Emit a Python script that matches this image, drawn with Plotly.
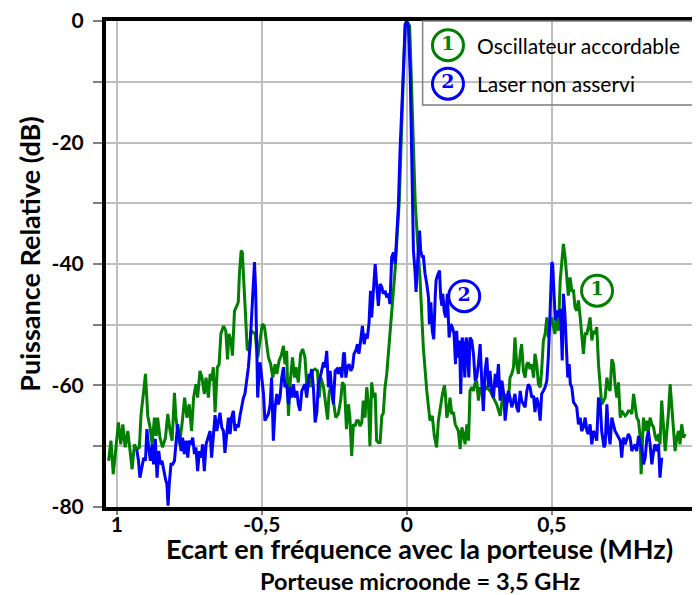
import plotly.graph_objects as go

# ---- Series 1 : Oscillateur accordable (green) ----
x_osc = [
    -1.028, -1.020, -1.012, -1.002, -0.994, -0.986, -0.979, -0.971, -0.962, -0.954,
    -0.947, -0.939, -0.931, -0.922, -0.916, -0.907, -0.901, -0.893, -0.885, -0.878,
    -0.870, -0.864, -0.859, -0.851, -0.842, -0.832, -0.824, -0.816, -0.809, -0.801,
    -0.796, -0.784, -0.775, -0.766, -0.758, -0.750, -0.742, -0.735, -0.727, -0.721,
    -0.713, -0.706, -0.698, -0.692, -0.684, -0.678,
    -0.673, -0.667, -0.661, -0.653, -0.647, -0.641, -0.632, -0.624, -0.618, -0.613,
    -0.606, -0.601, -0.594, -0.586, -0.581, -0.577, -0.571, -0.567, -0.561, -0.555,
    -0.550, -0.543, -0.537, -0.523, -0.514, -0.506, -0.498, -0.491, -0.485, -0.477,
    -0.469, -0.462, -0.454, -0.448, -0.440, -0.433, -0.425, -0.420, -0.414, -0.408,
    -0.401, -0.394, -0.387, -0.382, -0.374, -0.366, -0.359, -0.351, -0.345, -0.337,
    -0.333, -0.325, -0.316, -0.308, -0.302, -0.296, -0.287, -0.279, -0.273, -0.268,
    -0.261, -0.253, -0.245, -0.236, -0.228, -0.222, -0.215, -0.208, -0.201, -0.196,
    -0.190, -0.184, -0.178, -0.173, -0.167, -0.161, -0.155, -0.150, -0.144, -0.138,
    -0.132, -0.127, -0.121, -0.115, -0.109, -0.104, -0.098, -0.092, -0.086, -0.081,
    -0.075, -0.069, -0.063, -0.058, -0.052, -0.046, -0.040, -0.035,
    -0.026, -0.006, 0.000, 0.010, 0.029, 0.035,
    0.046, 0.057, 0.069, 0.080, 0.088, 0.095, 0.103, 0.109, 0.115, 0.123,
    0.130, 0.134, 0.138, 0.144, 0.149, 0.155, 0.161, 0.167, 0.172, 0.178,
    0.184, 0.190, 0.195, 0.201, 0.207, 0.213, 0.218, 0.224, 0.230, 0.236,
    0.241, 0.247, 0.253, 0.259, 0.264, 0.276, 0.287, 0.299, 0.310, 0.322,
    0.329, 0.336,
    0.339, 0.345, 0.350, 0.356, 0.362, 0.368, 0.373, 0.379, 0.385, 0.391,
    0.396, 0.402, 0.408, 0.414, 0.419, 0.425, 0.431, 0.437, 0.442, 0.448,
    0.454, 0.460, 0.465, 0.471, 0.477, 0.483, 0.488, 0.494, 0.500, 0.506,
    0.511, 0.517, 0.523, 0.529, 0.534, 0.540, 0.546, 0.552, 0.557, 0.563,
    0.569, 0.575, 0.580, 0.586, 0.592, 0.598, 0.603, 0.609, 0.615, 0.621,
    0.626, 0.632, 0.638, 0.644, 0.649, 0.655, 0.661, 0.667, 0.672,
    0.684, 0.690, 0.695, 0.701, 0.707, 0.713, 0.718, 0.724, 0.730, 0.736,
    0.741, 0.747, 0.753, 0.759, 0.764, 0.770, 0.776, 0.782, 0.787, 0.793,
    0.799, 0.805, 0.808, 0.813, 0.816, 0.822, 0.828, 0.833, 0.839, 0.845,
    0.851, 0.856, 0.862, 0.868, 0.873, 0.879, 0.885, 0.891, 0.896, 0.902,
    0.908, 0.914, 0.920, 0.925, 0.931, 0.937, 0.942, 0.948, 0.954, 0.960,
]
y_osc = [
    -72.4, -69.1, -74.6, -69.7, -66.1, -69.7, -66.4, -70.2, -67.5, -70.8,
    -73.8, -69.7, -70.5, -70.2, -64.7, -60.9, -58.1, -65.0, -66.9, -69.7,
    -65.3, -68.3, -65.3, -68.6, -70.2, -68.6, -64.7, -67.5, -69.1, -61.2,
    -65.3, -69.7, -66.4, -62.0, -65.3, -63.1, -67.5, -62.0, -59.8, -62.0,
    -57.6, -58.7, -61.4, -58.7, -62.0, -58.1,
    -59.2, -57.0, -64.4, -57.0, -56.5, -51.5, -50.2, -51.0, -55.7, -51.5,
    -52.6, -55.1, -47.7, -46.9, -46.3, -41.6, -37.8, -38.1, -43.8, -49.9,
    -54.0, -54.3, -51.0, -51.5, -55.4, -52.6, -49.9, -50.2, -52.5, -55.4,
    -56.5, -58.7, -56.5, -58.1, -55.9, -55.1, -53.5, -56.5, -54.3, -65.0,
    -58.9, -55.4, -58.7, -57.0, -59.5, -54.8, -54.0, -55.4, -59.8, -59.2,
    -60.3, -57.6, -57.3, -57.6, -62.0, -58.7, -60.3, -63.1, -65.6, -61.4,
    -59.8, -62.5, -65.3, -64.7, -62.5, -59.5, -60.0, -67.2, -63.1, -65.3,
    -71.6, -66.4, -66.7, -65.8, -65.8, -66.7, -66.1, -62.5, -65.3, -60.3,
    -63.1, -70.0, -59.5, -62.0, -61.2, -69.1, -69.4, -69.4, -65.0, -64.6,
    -60.3, -58.1, -54.8, -51.0, -47.7, -44.4, -40.8, -36.7,
    -29.8, -0.5, 0.0, -0.8, -29.8, -34.5,
    -42.7, -53.7, -60.9, -65.8, -65.0, -68.3, -70.2, -65.8, -63.6, -61.4,
    -60.0, -62.0, -65.3, -64.2, -62.0, -64.7, -64.4, -66.4, -66.9, -67.5,
    -70.5, -66.9, -68.0, -69.7, -66.4, -69.1, -60.9, -60.3, -60.9, -59.5,
    -59.2, -62.5, -60.3, -61.4, -60.9, -60.3, -60.9, -62.0, -63.1, -65.0,
    -62.5, -61.4,
    -64.4, -61.4, -62.8, -58.7, -58.1, -57.0, -52.1, -56.5, -58.1, -54.8,
    -53.2, -57.6, -58.7, -56.5, -56.2, -57.3, -56.5, -58.7, -54.8, -56.5,
    -59.8, -60.3, -57.6, -52.6, -51.5, -48.8, -52.1, -49.9, -48.8, -50.4,
    -51.5, -47.7, -51.0, -42.7, -40.0, -36.7, -38.9, -42.2, -45.2, -42.2,
    -44.4, -44.4, -47.1, -47.7, -46.0, -48.8, -52.1, -54.8, -51.5, -51.5,
    -50.4, -48.8, -52.6, -51.0, -51.5, -50.4, -56.5, -60.3, -63.1,
    -62.0, -58.7, -60.3, -60.9, -55.7, -56.5, -59.8, -62.0, -59.5, -65.3,
    -64.2, -64.7, -65.0, -64.7, -64.2, -64.2, -64.7, -61.4, -63.6, -65.3,
    -65.8, -68.6, -74.6, -67.5, -65.3, -67.5, -65.8, -67.5, -65.3, -66.4,
    -66.9, -68.3, -69.1, -68.0, -69.7, -62.5, -67.5, -70.8, -68.0, -64.7,
    -59.8, -63.1, -67.5, -70.8, -68.6, -67.5, -69.7, -66.4, -68.6, -68.0,
]

# ---- Series 2 : Laser non asservi (blue) ----
x_laser = [
    -0.931, -0.925, -0.920, -0.913, -0.907, -0.901, -0.896, -0.890, -0.884, -0.878,
    -0.873, -0.867, -0.861, -0.855, -0.850, -0.844, -0.838, -0.832, -0.827, -0.823,
    -0.819, -0.813, -0.807, -0.801, -0.796, -0.790, -0.784, -0.778, -0.773, -0.767,
    -0.761, -0.755, -0.750, -0.744, -0.738, -0.732, -0.727, -0.721, -0.715, -0.709,
    -0.704, -0.698, -0.692, -0.686, -0.678,
    -0.673, -0.667, -0.661, -0.655, -0.650, -0.644, -0.638, -0.632, -0.627, -0.621,
    -0.615, -0.609, -0.604, -0.598, -0.592, -0.586, -0.581, -0.575, -0.569, -0.563,
    -0.558, -0.552, -0.546, -0.540, -0.535, -0.529, -0.525, -0.521, -0.517, -0.514,
    -0.509, -0.506, -0.500, -0.494, -0.489, -0.483, -0.477, -0.471, -0.466, -0.460,
    -0.454, -0.448, -0.443, -0.437, -0.431, -0.425, -0.420, -0.414, -0.408, -0.402,
    -0.397, -0.391, -0.385, -0.379, -0.374, -0.368, -0.362, -0.356, -0.351, -0.345,
    -0.337,
    -0.333, -0.328, -0.322, -0.316, -0.310, -0.305, -0.299, -0.293, -0.287, -0.282,
    -0.276, -0.270, -0.264, -0.259, -0.253, -0.247, -0.241, -0.236, -0.230, -0.224,
    -0.218, -0.215, -0.210, -0.205, -0.199, -0.193, -0.187, -0.182, -0.176, -0.170,
    -0.165, -0.159, -0.153, -0.147, -0.141, -0.136, -0.130, -0.125, -0.121, -0.115,
    -0.109, -0.104, -0.098, -0.092, -0.086, -0.081, -0.075, -0.069, -0.063, -0.058,
    -0.052, -0.046, -0.040, -0.035,
    -0.029, -0.023, -0.012, -0.005, 0.000, 0.006, 0.012, 0.017, 0.021,
    0.023, 0.029, 0.032, 0.037, 0.040, 0.044, 0.048, 0.053, 0.057, 0.063,
    0.069, 0.075, 0.078, 0.083, 0.088, 0.093, 0.098, 0.101, 0.106, 0.109,
    0.113, 0.117, 0.121, 0.124, 0.129, 0.134, 0.140, 0.146, 0.152, 0.157,
    0.163, 0.168, 0.172, 0.177, 0.182, 0.186, 0.191, 0.195, 0.200, 0.205,
    0.209, 0.214, 0.218, 0.224, 0.230, 0.236, 0.241, 0.247, 0.253, 0.259,
    0.264, 0.270, 0.276, 0.282, 0.287, 0.293, 0.299, 0.305, 0.310, 0.316,
    0.322, 0.328, 0.336,
    0.339, 0.345, 0.350, 0.356, 0.362, 0.368, 0.373, 0.379, 0.385, 0.391,
    0.396, 0.402, 0.408, 0.414, 0.419, 0.425, 0.431, 0.437, 0.442, 0.448,
    0.454, 0.460, 0.465, 0.471, 0.477, 0.483, 0.488, 0.494, 0.500, 0.503,
    0.508, 0.512, 0.517, 0.523, 0.529, 0.532, 0.536, 0.540, 0.545, 0.549,
    0.555, 0.560, 0.564, 0.569, 0.575, 0.580, 0.586, 0.592, 0.598, 0.603,
    0.609, 0.615, 0.621, 0.626, 0.632, 0.638, 0.644, 0.649, 0.655, 0.661,
    0.667, 0.672, 0.680,
    0.684, 0.690, 0.695, 0.701, 0.707, 0.713, 0.718, 0.724, 0.730, 0.736,
    0.741, 0.747, 0.753, 0.759, 0.764, 0.770, 0.776, 0.782, 0.787, 0.793,
    0.799, 0.805, 0.810, 0.816, 0.822, 0.828, 0.833, 0.839, 0.845, 0.851,
    0.856, 0.862, 0.868, 0.873, 0.879,
]
y_laser = [
    -70.5, -72.4, -75.2, -73.0, -71.9, -72.4, -67.2, -70.2, -72.4, -69.7,
    -73.0, -68.8, -75.2, -70.8, -73.0, -72.4, -74.1, -75.4, -76.3, -79.8,
    -76.3, -73.0, -73.0, -72.4, -69.7, -66.4, -68.6, -70.8, -68.6, -71.3,
    -69.1, -71.9, -69.1, -69.7, -68.6, -71.3, -70.2, -74.1, -70.8, -71.9,
    -69.7, -74.1, -69.7, -68.6, -67.5,
    -71.9, -68.0, -64.9, -67.5, -65.8, -64.5, -66.9, -67.5, -71.1, -67.5,
    -65.3, -68.0, -65.3, -64.2, -67.5, -66.4, -66.9, -65.0, -63.1, -62.0,
    -61.4, -59.2, -57.0, -53.2, -48.2, -41.6, -39.7, -44.4, -52.1, -62.0,
    -57.6, -56.2, -58.7, -61.4, -65.8, -65.3, -64.7, -63.1, -58.7, -69.1,
    -63.6, -61.4, -63.1, -62.0, -58.7, -57.0, -60.3, -59.8, -63.1, -60.3,
    -62.0, -59.8, -62.0, -60.9, -63.1, -64.2, -60.9, -60.3, -59.8, -62.0,
    -58.1,
    -58.7, -57.3, -60.3, -66.1, -64.4, -59.8, -58.7, -57.6, -56.2, -57.0,
    -54.3, -60.3, -57.6, -60.9, -63.1, -57.6, -57.3, -58.1, -57.0, -58.7,
    -54.8, -54.6, -58.7, -57.0, -56.5, -57.6, -57.0, -54.8, -54.3, -53.2,
    -54.8, -52.6, -50.2, -53.2, -51.5, -52.3, -49.6, -44.4, -48.8, -44.4,
    -40.0, -43.3, -46.9, -43.3, -43.8, -44.9, -44.4, -45.5, -44.9, -46.6,
    -38.9, -38.1, -40.0, -35.6,
    -30.6, -21.0, -8.0, -0.7, 0.0, -1.0, -9.0, -21.0, -32.0,
    -37.8, -41.6, -44.6, -40.0, -36.7, -34.5, -37.8, -38.9, -38.6, -41.6,
    -43.3, -45.5, -49.9, -46.3, -51.0, -52.4, -45.5, -42.7, -41.9, -41.6,
    -41.1, -45.5, -46.9, -44.9, -47.7, -48.8, -44.9, -52.1, -49.9, -50.4,
    -51.5, -56.5, -51.0, -55.4, -52.6, -61.4, -52.1, -53.2, -58.7, -52.1,
    -53.7, -58.7, -52.1, -52.6, -54.8, -59.2, -58.7, -56.5, -53.2, -59.8,
    -64.2, -57.6, -55.4, -60.3, -57.6, -60.9, -62.0, -58.1, -60.3, -56.5,
    -62.5, -59.2, -62.0,
    -65.8, -63.1, -60.9, -62.0, -63.6, -62.5, -61.4, -63.6, -64.4, -60.9,
    -62.5, -63.1, -63.6, -60.9, -59.8, -60.3, -62.0, -61.7, -64.4, -62.0,
    -63.1, -65.8, -61.4, -60.9, -60.3, -59.2, -55.4, -48.2, -39.7, -40.0,
    -46.0, -49.3, -47.7, -48.8, -47.4, -49.9, -55.9, -44.9, -48.0, -51.5,
    -58.7, -56.5, -59.8, -60.3, -62.8, -63.1, -63.6, -66.4, -65.3, -67.5,
    -66.9, -65.3, -67.5, -68.0, -66.4, -69.7, -67.5, -68.0, -69.1, -62.0,
    -63.1, -67.5, -70.2,
    -69.7, -63.1, -67.5, -69.7, -65.3, -66.4, -67.5, -68.0, -68.6, -69.1,
    -71.9, -68.6, -69.7, -68.6, -68.0, -68.6, -70.8, -70.2, -69.7, -70.8,
    -68.3, -69.7, -70.2, -73.0, -71.9, -68.6, -67.5, -69.7, -73.0, -70.8,
    -69.7, -70.8, -69.7, -75.2, -71.9,
]

assert len(x_osc) == len(y_osc), (len(x_osc), len(y_osc))
assert len(x_laser) == len(y_laser), (len(x_laser), len(y_laser))

x_tick_vals = [-1, -0.5, 0, 0.5, 1]
x_tick_text = ["1", "-0,5", "0", "0,5", "1"]
y_tick_vals = [0, -10, -20, -30, -40, -50, -60, -70, -80]
y_tick_text = ["0", "", "-20", "", "-40", "", "-60", "", "-80"]

series_names = ["Oscillateur accordable", "Laser non asservi"]
series_ids = ["1", "2"]
series_colors = ["#008000", "#0000FF"]

x_title = "Ecart en fréquence avec la porteuse (MHz)"
x_subtitle = "Porteuse microonde = 3,5 GHz"
y_title = "Puissance Relative (dB)"

FONT = "Lato"

fig = go.Figure()
fig.add_trace(go.Scatter(x=x_osc, y=y_osc, mode="lines",
                         line=dict(color=series_colors[0], width=3), name=series_names[0]))
fig.add_trace(go.Scatter(x=x_laser, y=y_laser, mode="lines",
                         line=dict(color=series_colors[1], width=3), name=series_names[1]))

# circled identifiers (legend + in-plot labels)
circle_pos = {
    "legend": [(0.142, -3.96), (0.142, -10.3)],
    "inline": [(0.656, -44.4), (0.198, -45.3)],
}
for i in range(2):
    xs = [circle_pos["legend"][i][0], circle_pos["inline"][i][0]]
    ys = [circle_pos["legend"][i][1], circle_pos["inline"][i][1]]
    fig.add_trace(go.Scatter(
        x=xs, y=ys, mode="markers+text", text=[series_ids[i]] * 2,
        textposition="middle center",
        textfont=dict(family="DejaVu Serif", size=19, color=series_colors[i], weight="bold"),
        marker=dict(symbol="circle-open", size=31, color=series_colors[i],
                    line=dict(width=3, color=series_colors[i])),
        cliponaxis=False, hoverinfo="skip"))

annotations = []
for i in range(2):
    annotations.append(dict(
        x=0.2355, y=circle_pos["legend"][i][1], xref="x", yref="y",
        text=series_names[i], showarrow=False, xanchor="left", yanchor="middle",
        font=dict(family=FONT, size=21, color="black")))

annotations += [
    dict(x=0.5286, y=-0.086, xref="paper", yref="paper", text=x_title, showarrow=False,
         xanchor="center", yanchor="middle",
         font=dict(family=FONT, size=27, color="black", weight="bold")),
    dict(x=0.5286, y=-0.153, xref="paper", yref="paper", text=x_subtitle, showarrow=False,
         xanchor="center", yanchor="middle",
         font=dict(family=FONT, size=23.5, color="black", weight="bold")),
    dict(x=-0.129, y=0.52, xref="paper", yref="paper", text=y_title, showarrow=False,
         textangle=-90, xanchor="center", yanchor="middle",
         font=dict(family=FONT, size=27, color="black", weight="bold")),
]

# the page body adds an 8 px offset; the figure is sized to fit the window and
# margins compensate so the plot lands where the reference has it
fig.update_layout(
    width=692, height=587,
    margin=dict(l=98, r=0, t=13, b=88),
    plot_bgcolor="white", paper_bgcolor="white",
    showlegend=False,
    font=dict(family=FONT, color="black"),
    annotations=annotations,
    shapes=[dict(type="rect", xref="paper", yref="paper", x0=0.533, x1=1.05, y0=0.827, y1=1.0,
                 line=dict(color="#7f7f7f", width=1.5), fillcolor="rgba(0,0,0,0)", layer="above")],
)
fig.update_xaxes(
    range=[-1.037, 1.011], tickmode="array", tickvals=x_tick_vals, ticktext=x_tick_text,
    showgrid=True, gridcolor="#BFBFBF", gridwidth=1.5, zeroline=False,
    showline=True, linecolor="black", linewidth=4, mirror=True,
    ticks="outside", ticklen=4, tickwidth=1.5, tickcolor="#808080",
    tickfont=dict(family=FONT, size=21, color="black", weight="bold"),
    ticklabelstandoff=-8, automargin=False, ticklabeloverflow="allow",
)
fig.update_yaxes(
    range=[-80.02, 0.02], tickmode="array", tickvals=y_tick_vals, ticktext=y_tick_text,
    showgrid=True, gridcolor="#BFBFBF", gridwidth=1.5, zeroline=False,
    showline=True, linecolor="black", linewidth=4, mirror=False,
    ticks="outside", ticklen=9, tickwidth=1.5, tickcolor="#808080",
    tickfont=dict(family=FONT, size=21, color="black", weight="bold"),
    ticklabelstandoff=5, automargin=False, ticklabeloverflow="allow",
)

fig.write_html("out.html")
